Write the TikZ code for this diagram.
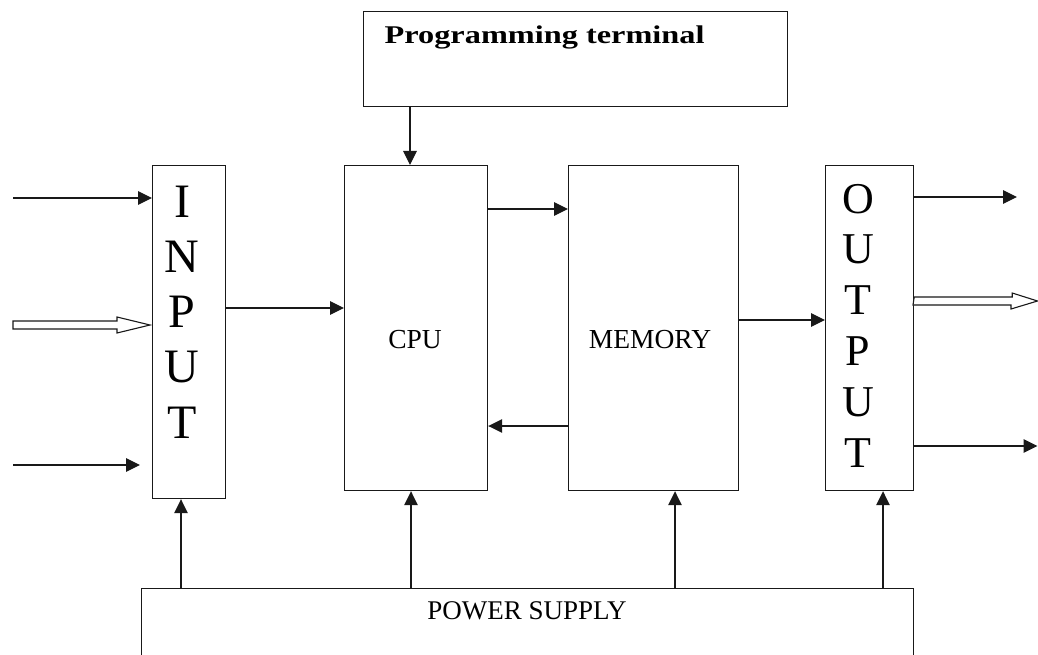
\documentclass[tikz,border=0pt]{standalone}
\usepackage{fontspec}
\usepackage{graphicx}
\setmainfont{Liberation Serif}
\usetikzlibrary{arrows.meta,calc}
\begin{document}
\begin{tikzpicture}[x=1pt,y=-1pt,line width=1.2pt,draw=black!90,
  box/.style={draw,rectangle,inner sep=0pt,anchor=north west},
  arr/.style={-{Triangle[length=14pt,width=13.5pt]}},
  hollow/.style={draw,line width=1.1pt,fill=white,line join=miter},
  lbl/.style={inner sep=0pt,anchor=base}]
\useasboundingbox (0,0) rectangle (1038,655);
\clip (0,0) rectangle (1038,655);
% boxes
\node[box,minimum width=424pt,minimum height=95pt] (prog) at (363,11) {};
\node[box,minimum width=73pt,minimum height=333pt] (input) at (152,165) {};
\node[box,minimum width=143pt,minimum height=325pt] (cpu) at (344,165) {};
\node[box,minimum width=170pt,minimum height=325pt] (mem) at (568,165) {};
\node[box,minimum width=88pt,minimum height=325pt] (out) at (825,165) {};
\node[box,minimum width=772pt,minimum height=100pt] (power) at (141,588) {};
% texts
\node[inner sep=0pt,anchor=base west] (progtext) at (384,43.5)
  {\resizebox{320pt}{\height}{\fontsize{25.5}{28}\selectfont\bfseries Programming terminal}};
\node[lbl,font=\fontsize{27.5}{30}\selectfont] (cputext) at (415,348) {CPU};
\node[lbl,font=\fontsize{27.5}{30}\selectfont] (memtext) at (650,348) {MEMORY};
\node[lbl,font=\fontsize{27}{30}\selectfont] (powertext) at (527,619) {POWER SUPPLY};
\node[inner sep=0pt,anchor=north,align=center,font=\fontsize{48}{55.25}\selectfont] (intext) at (182,185.2) {I\\N\\P\\U\\T};
\node[inner sep=0pt,anchor=north,align=center,font=\fontsize{44}{50.8}\selectfont] (outtext) at (858,183.3) {O\\U\\T\\P\\U\\T};
% input side arrows
\coordinate (inA) at (13,198);
\draw[arr] (inA) -- (input.west |- inA);
\coordinate (inB) at (13,325);
\draw[hollow] (inB) ++(0,-4) -- ++(104,0) -- ++(0,-4) -- ([xshift=-2pt]input.west |- inB) -- ++(-33,8) -- ++(0,-4) -- ++(-104,0) -- cycle;
\coordinate (inC) at (13,465);
\draw[arr] (inC) -- ([xshift=-12pt]input.west |- inC);
% output side arrows
\coordinate (outA) at (1017,197);
\draw[arr] (out.east |- outA) -- (outA);
\coordinate (outB) at (1037.5,301);
\draw[hollow] (out.east |- outB) ++(0,-4) -- ++(98,0) -- ++(0,-4) -- (outB) -- ++(-26.5,8) -- ++(0,-4) -- ++(-98,0) -- cycle;
\coordinate (outC) at (1037.5,446);
\draw[arr] (out.east |- outC) -- (outC);
% internal arrows
\coordinate (y308) at (0,308);
\draw[arr] (input.east |- y308) -- (cpu.west |- y308);
\coordinate (y209) at (0,209);
\draw[arr] (cpu.east |- y209) -- (mem.west |- y209);
\coordinate (y426) at (0,426);
\draw[arr] (mem.west |- y426) -- (cpu.east |- y426);
\coordinate (y320) at (0,320);
\draw[arr] (mem.east |- y320) -- (out.west |- y320);
\coordinate (x410) at (410,0);
\draw[arr] (prog.south -| x410) -- (cpu.north -| x410);
% power supply arrows
\coordinate (pA) at (181,0);
\draw[arr] (power.north -| pA) -- (input.south -| pA);
\coordinate (pB) at (411,0);
\draw[arr] (power.north -| pB) -- (cpu.south -| pB);
\coordinate (pC) at (675,0);
\draw[arr] (power.north -| pC) -- (mem.south -| pC);
\coordinate (pD) at (883,0);
\draw[arr] (power.north -| pD) -- (out.south -| pD);
\end{tikzpicture}
\end{document}
